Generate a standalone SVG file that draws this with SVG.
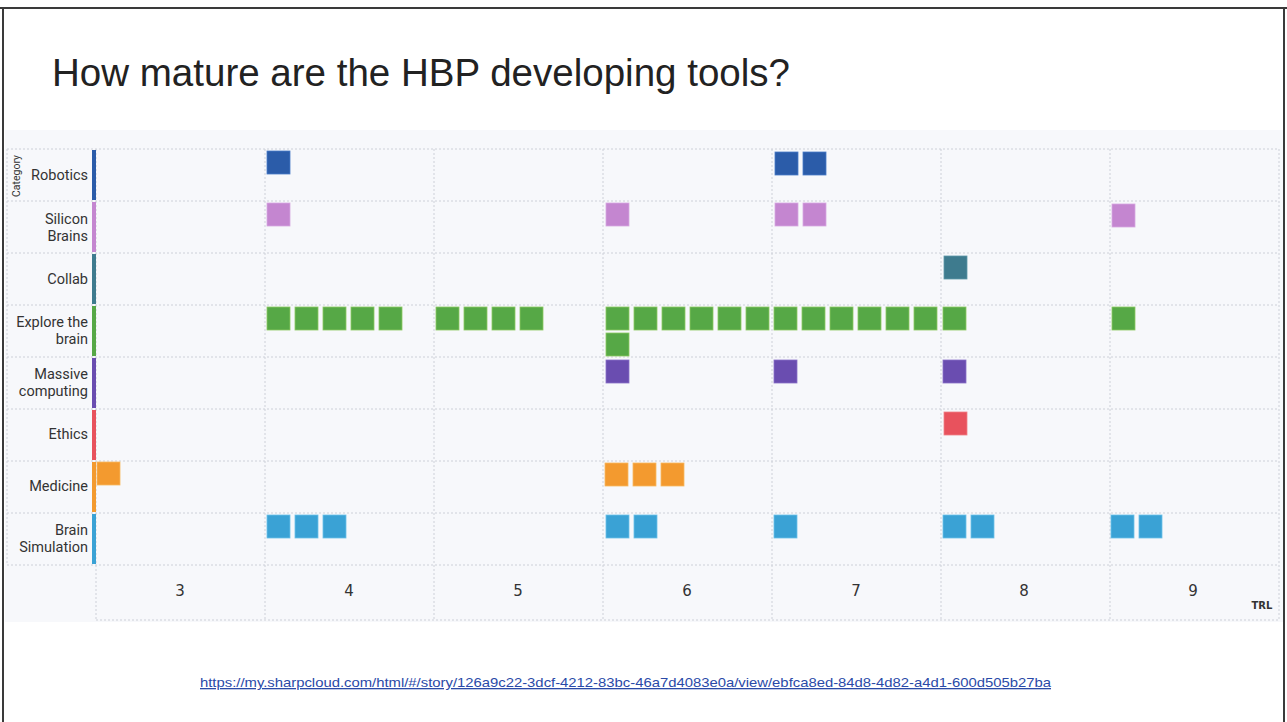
<svg xmlns="http://www.w3.org/2000/svg" width="1287" height="722" viewBox="0 0 1287 722">
<style>
.grid{stroke:#cdd0d8;stroke-width:1;stroke-dasharray:2 2;fill:none}
.lbl{font-family:Roboto,"Liberation Sans",sans-serif;font-size:14.5px;fill:#333;text-anchor:end}
.num{font-family:"DejaVu Sans",sans-serif;font-size:15px;fill:#333;text-anchor:middle}
.b{stroke-width:0.8}
.rob{fill:#2b5ca9;stroke:#4a7cc8}
.sil{fill:#c486d0;stroke:#d8a8e0}
.col{fill:#3e7b8e;stroke:#5e98a8}
.exp{fill:#56a846;stroke:#8cc860}
.mas{fill:#6a4db0;stroke:#8a70c8}
.eth{fill:#e8525d;stroke:#f08088}
.med{fill:#f39a2f;stroke:#f8b860}
.sim{fill:#3aa2d5;stroke:#6cc0e8}
</style>
<rect x="0" y="0" width="1287" height="722" fill="#ffffff"/>
<rect x="5" y="130" width="1278" height="492" fill="#f7f8fb"/>
<g id="frame" stroke="#3a3a3a" stroke-width="2" fill="none">
<line x1="0" y1="8" x2="1287" y2="8"/>
<line x1="3" y1="8" x2="3" y2="722"/>
<line x1="1284" y1="8" x2="1284" y2="722"/>
</g>
<text id="title" x="52" y="86" font-family="'Liberation Sans',Arial,sans-serif" font-size="38" fill="#222" textLength="738" lengthAdjust="spacingAndGlyphs">How mature are the HBP developing tools?</text>
<g id="grid">
<line class="grid" x1="7" y1="149" x2="1279" y2="149"/>
<line class="grid" x1="7" y1="201" x2="1279" y2="201"/>
<line class="grid" x1="7" y1="253" x2="1279" y2="253"/>
<line class="grid" x1="7" y1="305" x2="1279" y2="305"/>
<line class="grid" x1="7" y1="357" x2="1279" y2="357"/>
<line class="grid" x1="7" y1="409" x2="1279" y2="409"/>
<line class="grid" x1="7" y1="461" x2="1279" y2="461"/>
<line class="grid" x1="7" y1="513" x2="1279" y2="513"/>
<line class="grid" x1="7" y1="565" x2="1279" y2="565"/>
<line class="grid" x1="96" y1="620" x2="1279" y2="620"/>
<line class="grid" x1="7" y1="149" x2="7" y2="565"/>
<line class="grid" x1="96" y1="149" x2="96" y2="620"/>
<line class="grid" x1="265" y1="149" x2="265" y2="620"/>
<line class="grid" x1="434" y1="149" x2="434" y2="620"/>
<line class="grid" x1="603" y1="149" x2="603" y2="620"/>
<line class="grid" x1="772" y1="149" x2="772" y2="620"/>
<line class="grid" x1="941" y1="149" x2="941" y2="620"/>
<line class="grid" x1="1110" y1="149" x2="1110" y2="620"/>
<line class="grid" x1="1279" y1="149" x2="1279" y2="620"/>
</g>
<text id="category-axis" transform="translate(20,176) rotate(-90)" font-family="Roboto,'Liberation Sans',sans-serif" font-size="10.5" fill="#333" text-anchor="middle">Category</text>
<g id="cat-robotics"><rect x="92" y="150" width="4" height="50" fill="#2b5ca9"/><text class="lbl" x="88" y="180">Robotics</text></g>
<g id="cat-silicon"><rect x="92" y="202" width="4" height="50" fill="#c486d0"/><text class="lbl" x="88" y="224">Silicon</text><text class="lbl" x="88" y="241">Brains</text></g>
<g id="cat-collab"><rect x="92" y="254" width="4" height="50" fill="#3e7b8e"/><text class="lbl" x="88" y="284">Collab</text></g>
<g id="cat-explore"><rect x="92" y="306" width="4" height="50" fill="#56a846"/><text class="lbl" x="88" y="327">Explore the</text><text class="lbl" x="88" y="344">brain</text></g>
<g id="cat-massive"><rect x="92" y="358" width="4" height="50" fill="#6a4db0"/><text class="lbl" x="88" y="379">Massive</text><text class="lbl" x="88" y="396">computing</text></g>
<g id="cat-ethics"><rect x="92" y="410" width="4" height="50" fill="#e8525d"/><text class="lbl" x="88" y="439">Ethics</text></g>
<g id="cat-medicine"><rect x="92" y="462" width="4" height="50" fill="#f39a2f"/><text class="lbl" x="88" y="491">Medicine</text></g>
<g id="cat-brainsim"><rect x="92" y="514" width="4" height="50" fill="#3aa2d5"/><text class="lbl" x="88" y="535">Brain</text><text class="lbl" x="88" y="552">Simulation</text></g>
<g id="axis">
<text class="num" x="180" y="596">3</text>
<text class="num" x="349" y="596">4</text>
<text class="num" x="518" y="596">5</text>
<text class="num" x="687" y="596">6</text>
<text class="num" x="856" y="596">7</text>
<text class="num" x="1024" y="596">8</text>
<text class="num" x="1193" y="596">9</text>
<text x="1262" y="609" font-family="'DejaVu Sans',sans-serif" font-size="10" font-weight="bold" fill="#333" text-anchor="middle">TRL</text>
</g>
<g id="robotics-items">
<g id="rob1"><rect class="b rob" x="267" y="151" width="23" height="23"/></g>
<g id="rob2"><rect class="b rob" x="775" y="152" width="23" height="23"/></g>
<g id="rob3"><rect class="b rob" x="803" y="152" width="23" height="23"/></g>
</g>
<g id="silicon-items">
<g id="sil1"><rect class="b sil" x="267" y="203" width="23" height="23"/></g>
<g id="sil2"><rect class="b sil" x="606" y="203" width="23" height="23"/></g>
<g id="sil3"><rect class="b sil" x="775" y="203" width="23" height="23"/></g>
<g id="sil4"><rect class="b sil" x="803" y="203" width="23" height="23"/></g>
<g id="sil5"><rect class="b sil" x="1112" y="204" width="23" height="23"/></g>
</g>
<g id="collab-items">
<g id="col1"><rect class="b col" x="944" y="256" width="23" height="23"/></g>
</g>
<g id="explore-items">
<g id="exp1"><rect class="b exp" x="267" y="307" width="23" height="23"/></g>
<g id="exp2"><rect class="b exp" x="295" y="307" width="23" height="23"/></g>
<g id="exp3"><rect class="b exp" x="323" y="307" width="23" height="23"/></g>
<g id="exp4"><rect class="b exp" x="351" y="307" width="23" height="23"/></g>
<g id="exp5"><rect class="b exp" x="379" y="307" width="23" height="23"/></g>
<g id="exp6"><rect class="b exp" x="436" y="307" width="23" height="23"/></g>
<g id="exp7"><rect class="b exp" x="464" y="307" width="23" height="23"/></g>
<g id="exp8"><rect class="b exp" x="492" y="307" width="23" height="23"/></g>
<g id="exp9"><rect class="b exp" x="520" y="307" width="23" height="23"/></g>
<g id="exp10"><rect class="b exp" x="606" y="307" width="23" height="23"/></g>
<g id="exp11"><rect class="b exp" x="634" y="307" width="23" height="23"/></g>
<g id="exp12"><rect class="b exp" x="662" y="307" width="23" height="23"/></g>
<g id="exp13"><rect class="b exp" x="690" y="307" width="23" height="23"/></g>
<g id="exp14"><rect class="b exp" x="718" y="307" width="23" height="23"/></g>
<g id="exp15"><rect class="b exp" x="746" y="307" width="23" height="23"/></g>
<g id="exp16"><rect class="b exp" x="774" y="307" width="23" height="23"/></g>
<g id="exp17"><rect class="b exp" x="802" y="307" width="23" height="23"/></g>
<g id="exp18"><rect class="b exp" x="830" y="307" width="23" height="23"/></g>
<g id="exp19"><rect class="b exp" x="858" y="307" width="23" height="23"/></g>
<g id="exp20"><rect class="b exp" x="886" y="307" width="23" height="23"/></g>
<g id="exp21"><rect class="b exp" x="914" y="307" width="23" height="23"/></g>
<g id="exp22"><rect class="b exp" x="943" y="307" width="23" height="23"/></g>
<g id="exp23"><rect class="b exp" x="1112" y="307" width="23" height="23"/></g>
<g id="exp24"><rect class="b exp" x="606" y="333" width="23" height="23"/></g>
</g>
<g id="massive-items">
<g id="mas1"><rect class="b mas" x="606" y="360" width="23" height="23"/></g>
<g id="mas2"><rect class="b mas" x="774" y="360" width="23" height="23"/></g>
<g id="mas3"><rect class="b mas" x="943" y="360" width="23" height="23"/></g>
</g>
<g id="ethics-items">
<g id="eth1"><rect class="b eth" x="944" y="412" width="23" height="23"/></g>
</g>
<g id="medicine-items">
<g id="med1"><rect class="b med" x="97" y="462" width="23" height="23"/></g>
<g id="med2"><rect class="b med" x="605" y="463" width="23" height="23"/></g>
<g id="med3"><rect class="b med" x="633" y="463" width="23" height="23"/></g>
<g id="med4"><rect class="b med" x="661" y="463" width="23" height="23"/></g>
</g>
<g id="brainsim-items">
<g id="sim1"><rect class="b sim" x="267" y="515" width="23" height="23"/></g>
<g id="sim2"><rect class="b sim" x="295" y="515" width="23" height="23"/></g>
<g id="sim3"><rect class="b sim" x="323" y="515" width="23" height="23"/></g>
<g id="sim4"><rect class="b sim" x="606" y="515" width="23" height="23"/></g>
<g id="sim5"><rect class="b sim" x="634" y="515" width="23" height="23"/></g>
<g id="sim6"><rect class="b sim" x="774" y="515" width="23" height="23"/></g>
<g id="sim7"><rect class="b sim" x="943" y="515" width="23" height="23"/></g>
<g id="sim8"><rect class="b sim" x="971" y="515" width="23" height="23"/></g>
<g id="sim9"><rect class="b sim" x="1111" y="515" width="23" height="23"/></g>
<g id="sim10"><rect class="b sim" x="1139" y="515" width="23" height="23"/></g>
</g>
<text id="url" x="200" y="687" font-family="'Liberation Sans',sans-serif" font-size="13" fill="#2a4aa8" text-decoration="underline" textLength="851" lengthAdjust="spacingAndGlyphs">https://my.sharpcloud.com/html/#/story/126a9c22-3dcf-4212-83bc-46a7d4083e0a/view/ebfca8ed-84d8-4d82-a4d1-600d505b27ba</text>
</svg>
